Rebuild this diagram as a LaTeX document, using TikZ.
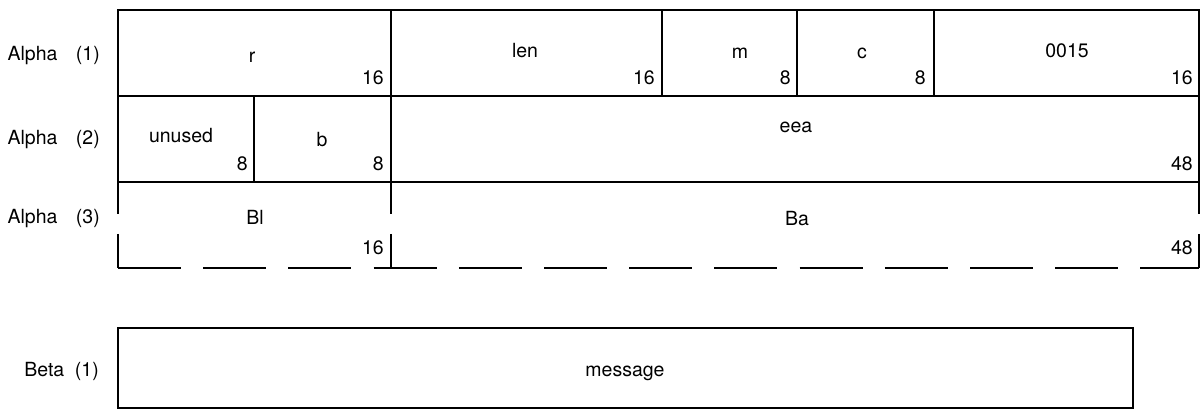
\documentclass[tikz,border=0pt]{standalone}
\usepackage{fontspec}
\setmainfont{TeX Gyre Heros}
\begin{document}
\begin{tikzpicture}[x=1pt,y=-1pt,
  txt/.style={font=\fontsize{19.5}{23}\selectfont, inner sep=0pt},
  fieldname/.style={txt, anchor=base},
  bitcount/.style={txt, anchor=base east},
  rowname/.style={txt, anchor=base east},
  frame/.style={line width=2.2pt},
  gapline/.style={line width=2.2pt, dash pattern=on 63pt off 22.2pt}]
\useasboundingbox (0,0) rectangle (1204,411);

% ---- Alpha (1) and Alpha (2): solid frame
\draw[frame] (118,10) rectangle (1199,182);
\draw[frame] (118,96) -- (1199,96);
% Alpha (1) field boundaries
\foreach \x in {391,662,797,934} \draw[frame] (\x,10) -- (\x,96);
% Alpha (2) field boundaries
\foreach \x in {254,391} \draw[frame] (\x,96) -- (\x,182);

% ---- Alpha (3): broken outline
\foreach \x in {118,391,1199} {
  \draw[frame] (\x,182) -- (\x,214);
  \draw[frame] (\x,234) -- (\x,268);
}
\draw[gapline] (118,268) -- (1199,268);

% ---- Beta (1)
\draw[frame] (118,328) rectangle (1133,408);

% ---- row names
\node[rowname] (a1) at (100,61)  {Alpha\hspace{0.95em}(1)};
\node[rowname] (a2) at (100,145) {Alpha\hspace{0.95em}(2)};
\node[rowname] (a3) at (100,224) {Alpha\hspace{0.95em}(3)};
\node[rowname] (b1) at (99,376)  {Beta\hspace{0.55em}(1)};

% ---- Alpha (1) fields
\node[fieldname] (r)    at (252,63)  {r};
\node[fieldname] (len)  at (525,58)  {len};
\node[fieldname] (m)    at (740,59)  {m};
\node[fieldname] (c)    at (862,59)  {c};
\node[fieldname] (code) at (1067,58) {0015};
\node[bitcount] (rn)    at (384,85)  {16};
\node[bitcount] (lenn)  at (655,85)  {16};
\node[bitcount] (mn)    at (791,85)  {8};
\node[bitcount] (cn)    at (926,85)  {8};
\node[bitcount] (coden) at (1193,85) {16};

% ---- Alpha (2) fields
\node[fieldname] (unused) at (181,143) {unused};
\node[fieldname] (b)      at (322,147) {b};
\node[fieldname] (eea)    at (796,133) {eea};
\node[bitcount] (unusedn) at (248,171)  {8};
\node[bitcount] (bn)      at (384,171)  {8};
\node[bitcount] (eean)    at (1193,171) {48};

% ---- Alpha (3) fields
\node[fieldname] (bl) at (255,225) {Bl};
\node[fieldname] (ba) at (797,226) {Ba};
\node[bitcount] (bln) at (384,255)  {16};
\node[bitcount] (ban) at (1193,255) {48};

% ---- Beta (1) field
\node[fieldname] (msg) at (625,376) {message};
\end{tikzpicture}
\end{document}
